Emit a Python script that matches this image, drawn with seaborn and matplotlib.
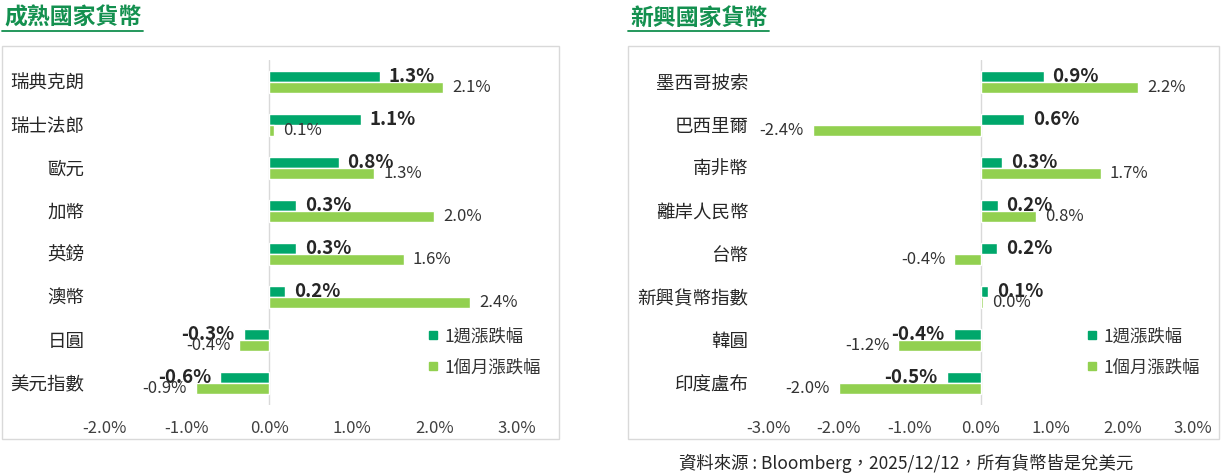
import numpy as np
import pandas as pd
import seaborn as sns
import matplotlib.pyplot as plt
from matplotlib.patches import Rectangle
from matplotlib.lines import Line2D

# 成熟國家貨幣
dev_names = ['瑞典克朗', '瑞士法郎', '歐元', '加幣', '英鎊', '澳幣', '日圓', '美元指數']
dev_week = [1.34, 1.11, 0.84, 0.33, 0.32, 0.19, -0.31, -0.59]
dev_month = [2.11, 0.06, 1.27, 2.00, 1.63, 2.43, -0.36, -0.89]

# 新興國家貨幣
em_names = ['墨西哥披索', '巴西里爾', '南非幣', '離岸人民幣', '台幣', '新興貨幣指數', '韓圓', '印度盧布']
em_week = [0.89, 0.61, 0.30, 0.24, 0.23, 0.11, -0.38, -0.48]
em_month = [2.23, -2.37, 1.70, 0.79, -0.37, 0.04, -1.16, -2.00]

periods = ['1週漲跌幅', '1個月漲跌幅']
dev_ticks = [-2, -1, 0, 1, 2, 3]
em_ticks = [-3, -2, -1, 0, 1, 2, 3]

DARK = '#00a76b'
LIGHT = '#92d050'
TITLE = '#13904f'
W, H = 1224, 473

sns.set_theme(style='white')
plt.rcParams['font.family'] = ['Noto Sans CJK TC', 'DejaVu Sans']


def make_df(names, week, month):
    return pd.DataFrame({
        '貨幣': names + names,
        '漲跌幅': week + month,
        '期間': [periods[0]] * len(names) + [periods[1]] * len(names),
    })


def px_box(x0, y0, x1, y1):
    # pixel box (top-left origin) -> figure fraction [l, b, w, h]
    return [x0 / W, 1 - y1 / H, (x1 - x0) / W, (y1 - y0) / H]


def draw_panel(fig, box, frame, title, title_x, df, ticks, leg_x):
    ax = fig.add_axes(px_box(*box))
    sns.barplot(data=df, x='漲跌幅', y='貨幣', hue='期間', orient='h',
                palette=[DARK, LIGHT], width=0.51, saturation=1,
                errorbar=None, legend=False, ax=ax)
    ax.set_xlim(ticks[0], ticks[-1])
    ax.set_xticks(ticks)
    ax.set_xticklabels([f'{t:.1f}%' for t in ticks])
    ax.set_xlabel('')
    ax.set_ylabel('')
    for s in ax.spines.values():
        s.set_visible(False)
    ax.axvline(0, color='#d9d9d9', lw=1, zorder=0)
    ax.tick_params(axis='x', length=0, pad=11, labelsize=12, colors='#404040')
    ax.tick_params(axis='y', length=0, pad=14, labelsize=13.3, colors='#262626')
    for lab in ax.get_yticklabels():
        lab.set_fontweight('medium')

    # value labels
    for i, cont in enumerate(ax.containers):
        if i == 0:
            ax.bar_label(cont, fmt='{:.1f}%', padding=6.5, fontsize=13.5,
                         fontweight='bold', color='#262626')
        else:
            ax.bar_label(cont, fmt='{:.1f}%', padding=6.5, fontsize=12,
                         color='#333333')

    handles = [Line2D([], [], ls='', marker='s', markersize=5.5, color=c)
               for c in (DARK, LIGHT)]
    ax.legend(handles, periods, loc='center left', bbox_to_anchor=(leg_x, 0.1536),
              frameon=False, fontsize=12.5, handlelength=0.45,
              handletextpad=0.45, labelspacing=0.75, borderpad=0, borderaxespad=0,
              labelcolor='#333333')

    fig.add_artist(Rectangle((frame[0] / W, 1 - frame[3] / H),
                             (frame[2] - frame[0]) / W, (frame[3] - frame[1]) / H,
                             transform=fig.transFigure, fill=False,
                             edgecolor='#d9d9d9', lw=1))
    fig.text(title_x / W, 1 - 18 / H, title, fontsize=16.5, fontweight='bold',
             color=TITLE, va='center', ha='left')
    fig.add_artist(Line2D([(title_x - 2) / W, (title_x + 139) / W],
                          [1 - 31 / H, 1 - 31 / H], color=TITLE, lw=1.3))
    return ax


fig = plt.figure(figsize=(W / 100, H / 100), dpi=100)

draw_panel(fig, (104, 60, 517, 405), (2, 46, 559, 439), '成熟國家貨幣', 4,
           make_df(dev_names, dev_week, dev_month), dev_ticks, (429 - 104) / 413)
draw_panel(fig, (768, 60, 1193, 405), (628, 46, 1219, 439), '新興國家貨幣', 630,
           make_df(em_names, em_week, em_month), em_ticks, (1088 - 768) / 425)

fig.text(679 / W, 1 - 463 / H, '資料來源 : Bloomberg，2025/12/12，所有貨幣皆是兌美元',
         fontsize=12.5, color='#262626', va='center', ha='left')

fig.savefig('out.png', dpi=100)
